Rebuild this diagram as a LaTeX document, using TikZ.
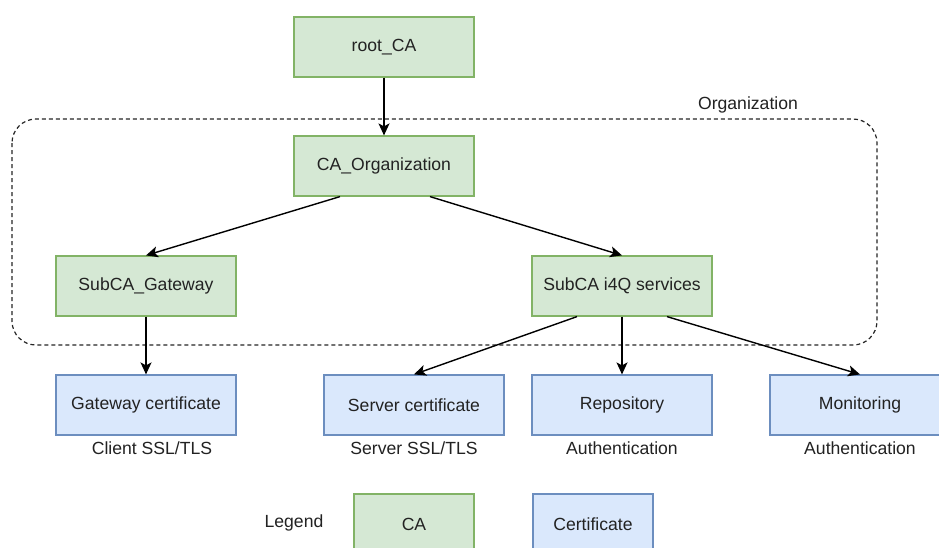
\documentclass[tikz,border=0pt]{standalone}
\usepackage{fontspec}
\setmainfont{Liberation Sans}
\usetikzlibrary{arrows.meta}
\definecolor{gfill}{HTML}{D5E8D4}
\definecolor{gdraw}{HTML}{82B366}
\definecolor{bfill}{HTML}{DAE8FC}
\definecolor{bdraw}{HTML}{6C8EBF}
\definecolor{txt}{HTML}{222222}
\tikzset{
  cabox/.style={draw=gdraw, fill=gfill, line width=1.2pt, minimum width=180pt, minimum height=60pt, inner sep=0pt, text=txt, font=\fontsize{17.6}{20}\selectfont},
  certbox/.style={draw=bdraw, fill=bfill, line width=1.2pt, minimum width=180pt, minimum height=60pt, inner sep=0pt, text=txt, font=\fontsize{17.6}{20}\selectfont},
  lbl/.style={text=txt, inner sep=0pt, font=\fontsize{17.6}{20}\selectfont},
  conn/.style={line width=1.4pt, -{Stealth[length=12pt, width=11pt, inset=3pt]}}
}
\begin{document}
\begin{tikzpicture}[x=1pt, y=-1pt]
\useasboundingbox (0,0) rectangle (939,547);
\clip (0,0) rectangle (939,547);
\fill[white] (0,0) rectangle (939,547);
% container
\draw[line width=1.2pt, dash pattern=on 4pt off 3pt, draw=black!85, rounded corners=24pt] (12,119) rectangle (877,345);
\node[lbl] (orglbl) at (748,105) {Organization};
% nodes
\node[cabox] (root) at (384,47) {root\_CA};
\node[cabox] (org) at (384,166) {CA\_Organization};
\node[cabox] (subgw) at (146,286) {SubCA\_Gateway};
\node[cabox] (subsv) at (622,286) {SubCA i4Q services};
\node[certbox] (gwcert) at (146,405) {Gateway certificate};
\node[certbox] (svcert) at (414,405) {Server certificate};
\node[certbox] (repo) at (622,405) {Repository};
\node[certbox] (mon) at (860,405) {Monitoring};
\node[lbl] (l1) at (152,448) {Client SSL/TLS};
\node[lbl] (l2) at (414,448) {Server SSL/TLS};
\node[lbl] (l3) at (622,448) {Authentication};
\node[lbl] (l4) at (860,448) {Authentication};
% legend
\node[lbl] (leg) at (294,523) {Legend};
\node[cabox, minimum width=120pt] (legca) at (414,524) {CA};
\node[certbox, minimum width=120pt] (legcert) at (593,524) {Certificate};
% connectors
\draw[conn] (root.south) -- (org.north);
\draw[conn] ([xshift=-44pt]org.south) -- (subgw.north);
\draw[conn] ([xshift=46pt]org.south) -- (subsv.north);
\draw[conn] (subgw.south) -- (gwcert.north);
\draw[conn] ([xshift=-45pt]subsv.south) -- (svcert.north);
\draw[conn] (subsv.south) -- (repo.north);
\draw[conn] ([xshift=45pt]subsv.south) -- (mon.north);
\end{tikzpicture}
\end{document}
